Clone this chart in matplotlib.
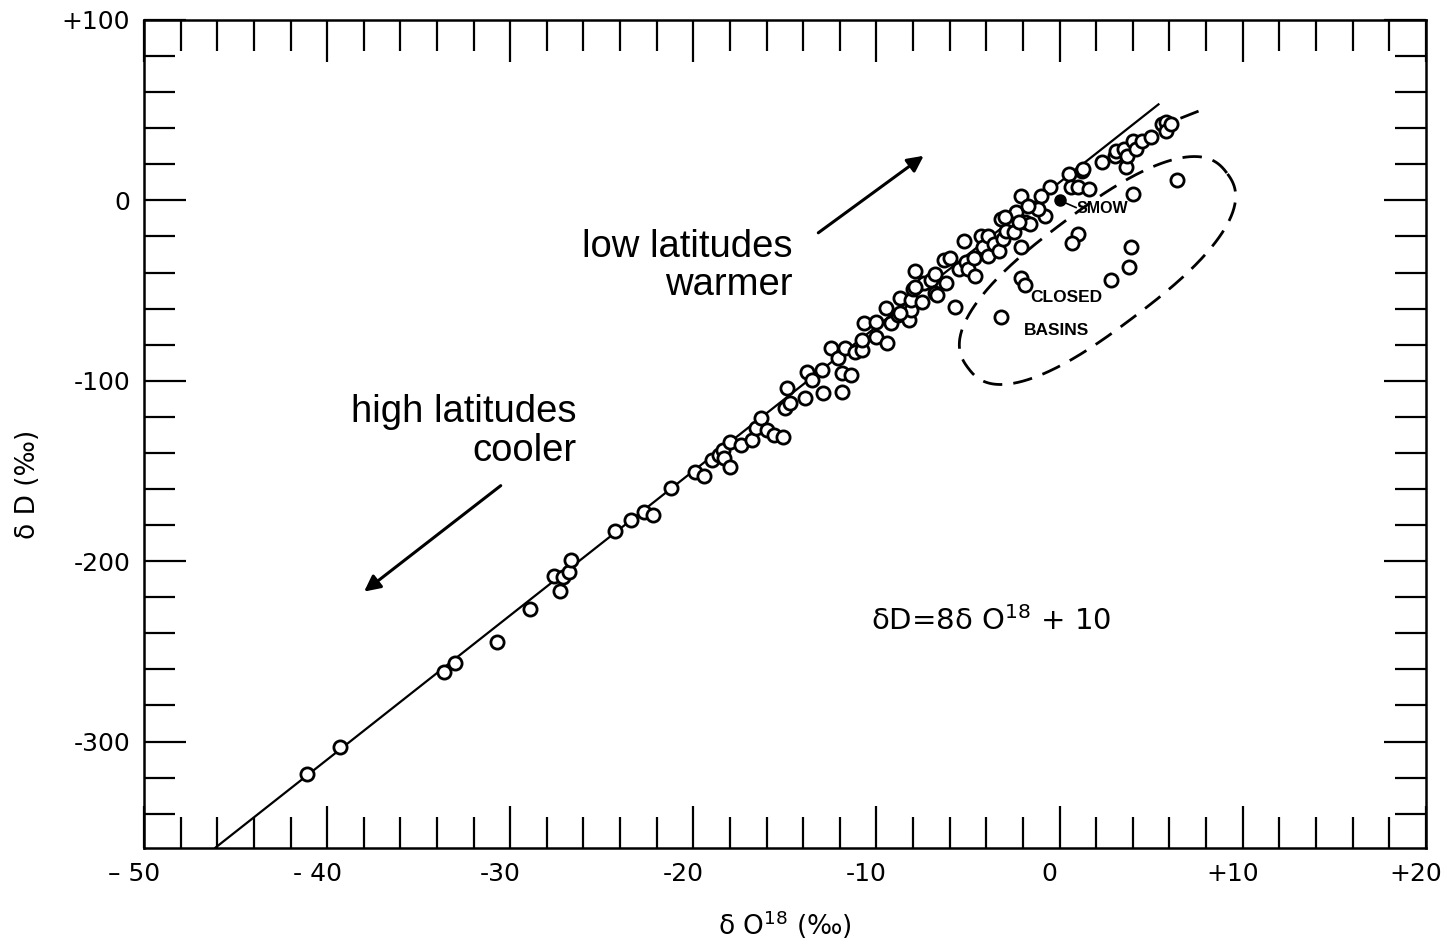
import numpy as np
import matplotlib
matplotlib.use('Agg')
import matplotlib.pyplot as plt
import matplotlib.transforms as mtransforms
from matplotlib.ticker import MultipleLocator, FixedLocator

plt.rcParams['font.family'] = ['DejaVu Sans']

# meteoric waters (delta O18, delta D) in per mil
d18o = [-41.1, -39.3, -33.6, -33.0, -30.7, -28.9, -27.6, -27.3, -27.1, -26.8,
        -26.7, -24.3, -23.4, -22.7, -22.2, -21.2, -19.9, -19.4, -19.0, -18.6,
        -18.4, -18.3, -18.0, -18.0, -17.4, -16.8, -16.6, -16.3, -16.0, -15.6,
        -15.1, -15.0, -14.7, -14.9, -13.9, -13.8, -13.5, -13.0, -12.9, -11.9,
        -11.9, -11.4, -12.5, -12.1, -11.7, -11.2, -10.8, -10.8, -10.7, -10.0,
        -10.0, -9.4, -9.5, -9.2, -8.8, -8.7, -8.2, -8.1, -8.1, -7.9,
        -8.0, -7.5, -7.4, -7.0, -6.8, -8.7, -7.9, -6.8, -6.7, -6.3,
        -6.2, -6.0, -5.7, -5.5, -5.2, -5.1, -5.0, -4.7, -4.6, -4.3,
        -4.2, -3.9, -3.9, -3.6, -3.3, -3.2, -3.1, -2.9, -2.4, -2.5,
        -2.1, -2.1, -1.9, -0.5, 0.5, 0.6, 1.0, 1.2, 1.6, 1.3,
        2.3, 3.0, 3.1, 3.5, 3.6, 3.7, 4.0, 4.2, 4.5, 5.0,
        5.6, 5.8, 5.8, 6.1, -1.0, -0.8, -1.2, -1.6, -1.7, -2.2, -3.0]
dD = [-317.8, -302.8, -261.7, -256.7, -245.0, -226.7, -208.3, -216.7, -208.9, -206.1,
      -199.4, -183.3, -177.2, -172.8, -174.4, -159.4, -150.6, -152.8, -143.9, -141.1,
      -138.3, -142.8, -147.8, -133.9, -135.6, -132.8, -126.1, -120.6, -127.2, -130.0,
      -131.1, -115.0, -112.2, -103.9, -109.4, -95.0, -99.4, -93.9, -106.7, -106.1,
      -95.6, -96.7, -81.7, -87.2, -81.7, -83.9, -82.8, -77.2, -67.8, -75.6,
      -67.2, -78.9, -59.4, -67.8, -63.3, -53.9, -66.1, -60.6, -55.0, -39.4,
      -49.4, -56.1, -45.6, -43.9, -51.1, -62.2, -48.3, -41.1, -52.2, -32.8,
      -45.6, -31.7, -58.9, -38.3, -22.8, -33.9, -38.3, -31.7, -42.2, -20.0,
      -26.1, -31.1, -20.0, -24.4, -28.3, -10.6, -21.7, -17.2, -6.7, -17.8,
      2.2, -26.1, -12.2, 7.2, 14.4, 7.2, 7.2, 16.1, 6.1, 17.2,
      21.1, 24.4, 27.2, 28.3, 18.3, 24.4, 32.8, 28.3, 32.8, 35.0,
      42.2, 43.3, 38.3, 42.2, 2.2, -8.9, -5.0, -13.3, -3.3, -12.2, -9.4]

# closed basin waters
basin_d18o = [6.4, 4.0, 1.0, 0.7, 3.9, 3.8, 2.8, -2.1, -1.9, -3.2]
basin_dD = [11.1, 3.3, -18.9, -23.9, -25.6, -37.2, -44.4, -42.8, -46.7, -64.4]

# meteoric water line dD = 8 d18O + 10
line_x = [-46.1, 5.4]
slope, intercept = 8, 10

xticks = [-50, -40, -30, -20, -10, 0, 10, 20]
xticklabels = ['\u2013 50', '- 40', '-30', '-20', '-10', '0', '+10', '+20']
yticks = [-300, -200, -100, 0, 100]
yticklabels = ['-300', '-200', '-100', '0', '+100']

fig = plt.figure(figsize=(14.49, 9.49), dpi=100)
ax = fig.add_axes([0.0994, 0.1064, 0.8846, 0.8726])
ax.set_xlim(-50, 20)
ax.set_ylim(-359, 100)

lx = np.array(line_x)
ax.plot(lx, slope * lx + intercept, color='black', lw=1.6, zorder=2)

mk = dict(marker='o', ls='none', ms=9.5, mfc='white', mec='black', mew=2.0, zorder=3)
ax.plot(d18o, dD, **mk)
ax.plot(basin_d18o, basin_dD, **mk)

# SMOW
ax.plot([0], [0], marker='o', ms=8, color='black', ls='none', zorder=4)
ax.plot([0, 0.9], [0, -4], color='black', lw=1.2)
lab = dict(fontweight='bold', family='Liberation Sans', va='center')
ax.text(0.95, -4.5, 'SMOW', fontsize=11.5, ha='left', **lab)
ax.text(0.35, -54, 'CLOSED', fontsize=12.5, ha='center', **lab)
ax.text(-0.15, -72, 'BASINS', fontsize=12.5, ha='center', **lab)

# dashed envelope round closed basins: a rounded oval (superellipse)
# built in screen space and mapped back to data coordinates
fig.canvas.draw()
to_disp = ax.transData
cx, cy = to_disp.transform((2.07, -38.9))
a, b, n, ang = 162, 59, 2.5, np.deg2rad(37)
t = np.linspace(0, 2 * np.pi, 500)
ct, st = np.cos(t), np.sin(t)
u = a * np.sign(ct) * np.abs(ct) ** (2 / n)
v = b * np.sign(st) * np.abs(st) ** (2 / n)
ex = cx + u * np.cos(ang) - v * np.sin(ang)
ey = cy + u * np.sin(ang) + v * np.cos(ang)
ell = to_disp.inverted().transform(np.column_stack([ex, ey]))
ax.plot(ell[:, 0], ell[:, 1], color='black', lw=2, ls=(0, (7, 4)))
ax.plot([6.6, 7.6], [45.5, 49.5], color='black', lw=2, ls=(0, (7, 4)))

# arrows and annotations
ax.annotate('', xy=(-7.3, 25.6), xytext=(-13.3, -18.9),
            arrowprops=dict(arrowstyle='-|>', color='black', lw=2.2, mutation_scale=24))
ax.annotate('', xy=(-38.1, -217.8), xytext=(-30.4, -157.2),
            arrowprops=dict(arrowstyle='-|>', color='black', lw=2.2, mutation_scale=24))
ax.text(-14.6, -36.4, 'low latitudes\nwarmer', fontsize=27.5, family='Liberation Sans',
        ha='right', va='center', linespacing=1.1)
ax.text(-26.4, -128.3, 'high latitudes\ncooler', fontsize=27.5, family='Liberation Sans',
        ha='right', va='center', linespacing=1.1)
ax.text(-10.3, -233, 'δD=8δ O$^{18}$ + 10', fontsize=21,
        ha='left', va='center')

# ticks
ax.xaxis.set_major_locator(FixedLocator(xticks))
ax.xaxis.set_minor_locator(MultipleLocator(2))
ax.yaxis.set_major_locator(FixedLocator(yticks))
ax.yaxis.set_minor_locator(MultipleLocator(20))
ax.set_xticklabels(xticklabels, fontsize=18)
ax.set_yticklabels(yticklabels, fontsize=18)
ax.tick_params(which='both', direction='in', top=True, right=True, width=1.6, color='black')
ax.tick_params(which='major', length=30, pad=10)
ax.tick_params(which='minor', length=22)
for s in ax.spines.values():
    s.set_linewidth(1.8)

# the x labels sit a little left of their ticks in the original (10 px)
shift = mtransforms.ScaledTranslation(-0.1, 0, fig.dpi_scale_trans)
for lbl in ax.get_xticklabels():
    lbl.set_transform(lbl.get_transform() + shift)

ax.set_xlabel('δ O$^{18}$ (‰)', fontsize=19, labelpad=16)
fig.text(0.019, 0.49, 'δ D (‰)', fontsize=19, rotation=90, ha='center', va='center')

fig.savefig('out.png', dpi=100)
